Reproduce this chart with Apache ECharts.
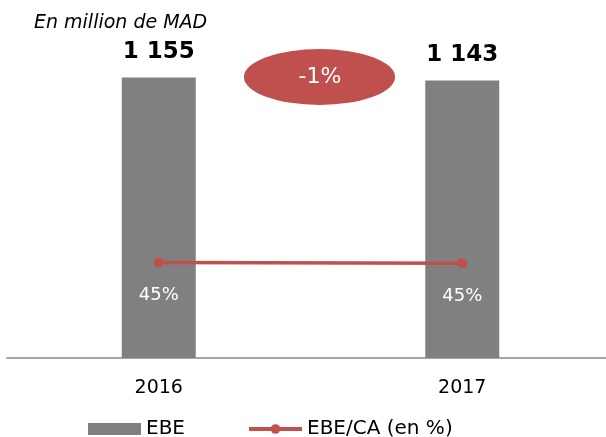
<!DOCTYPE html>
<html>
<head>
<meta charset="utf-8">
<script src="https://cdn.jsdelivr.net/npm/echarts@6/dist/echarts.min.js"></script>
<style>
  html, body { margin: 0; padding: 0; background: #fff; }
  #chart { width: 606px; height: 437px; }
</style>
</head>
<body>
<div id="chart"></div>
<script>
// données
const years = ['2016', '2017'];
const ebe = [1155, 1143];
const ebeCa = [44.9, 44.6];
const variation = '-1%';

const chart = echarts.init(document.getElementById('chart'));
const font = 'DejaVu Sans';
const red = '#c0504d';

chart.setOption({
  animation: false,
  textStyle: { fontFamily: font },
  title: {
    text: 'En million de MAD',
    left: 29,
    top: 9,
    textStyle: { fontSize: 19, fontStyle: 'italic', fontWeight: 'normal', color: '#000', fontFamily: font }
  },
  legend: {
    top: 414,
    left: 83,
    itemWidth: 53,
    itemHeight: 12,
    itemGap: 62,
    textStyle: { fontSize: 20, color: '#000', fontFamily: font },
    data: [
      { name: 'EBE', icon: 'rect' },
      { name: 'EBE/CA (en %)', lineStyle: { width: 4 } }
    ]
  },
  grid: { left: 7, top: 18, width: 607, height: 340, outerBoundsMode: 'none' },
  xAxis: {
    type: 'category',
    data: years,
    axisLine: { lineStyle: { color: '#a6a6a6', width: 2 } },
    axisTick: { show: false },
    axisLabel: { fontSize: 19, color: '#000', margin: 21, fontFamily: font }
  },
  yAxis: [
    { type: 'value', min: 0, max: 1400, show: false, splitLine: { show: false } },
    { type: 'value', min: 0, max: 160, show: false, splitLine: { show: false } }
  ],
  series: [
    {
      name: 'EBE',
      type: 'bar',
      data: ebe,
      barWidth: 74,
      itemStyle: { color: '#808080' },
      label: {
        show: true,
        position: 'top',
        distance: 14,
        fontSize: 23,
        fontWeight: 'bold',
        color: '#000',
        fontFamily: font,
        formatter: p => String(p.value).replace(/\B(?=(\d{3})+(?!\d))/g, ' ')
      }
    },
    {
      name: 'EBE/CA (en %)',
      type: 'line',
      yAxisIndex: 1,
      data: ebeCa,
      symbol: 'circle',
      symbolSize: 10,
      itemStyle: { color: red },
      lineStyle: { color: red, width: 3.5 },
      label: {
        show: true,
        position: 'bottom',
        distance: 19,
        fontSize: 18,
        color: '#fff',
        fontFamily: font,
        formatter: p => Math.round(p.value) + '%'
      }
    }
  ],
  graphic: [
    {
      type: 'circle',
      shape: { cx: 0, cy: 0, r: 28 },
      x: 319.5,
      y: 77,
      scaleX: 2.7,
      style: { fill: red }
    },
    {
      type: 'text',
      x: 320,
      y: 77,
      style: {
        text: variation,
        fill: '#fff',
        fontSize: 22,
        fontFamily: font,
        align: 'center',
        verticalAlign: 'middle'
      }
    }
  ]
});
</script>
</body>
</html>
